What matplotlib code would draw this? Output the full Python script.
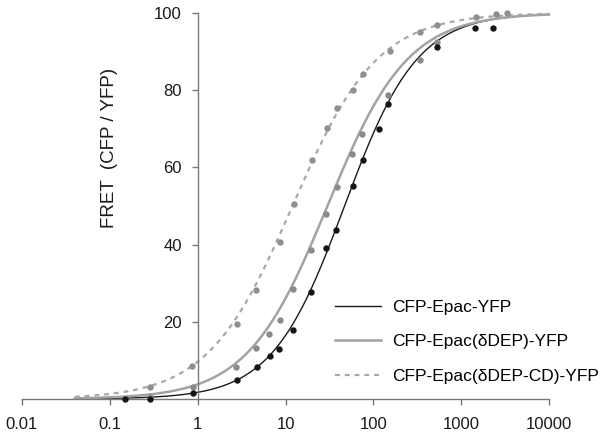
import numpy as np
import matplotlib
matplotlib.use("Agg")
import matplotlib.pyplot as plt

plt.rcParams['font.family'] = ['Liberation Sans', 'DejaVu Sans']

epac_x = [0.15, 0.29, 0.88, 2.8, 4.7, 6.6, 8.4, 12.3, 19.6, 29, 37.7, 58, 77, 115, 145, 525, 1440, 2310]
epac_y = [0, 0, 1.6, 4.9, 8.3, 11.2, 12.9, 17.9, 27.8, 39, 43.8, 55.2, 61.9, 69.9, 76.4, 91.1, 96, 96]

ddep_x = [0.29, 0.88, 2.75, 4.56, 6.46, 8.55, 12.3, 19.7, 29, 38.3, 57.3, 74.4, 145, 339, 525, 2480]
ddep_y = [0.6, 3.0, 8.3, 13.1, 16.8, 20.5, 28.4, 38.6, 47.9, 54.8, 63.5, 68.7, 78.8, 87.8, 92.5, 99.7]

ddepcd_x = [0.29, 0.87, 2.83, 4.65, 8.55, 12.4, 20.1, 29.5, 38.3, 58, 75.5, 155, 339, 525, 1470, 3360]
ddepcd_y = [3.0, 8.5, 19.4, 28.2, 40.8, 50.4, 61.9, 70.1, 75.3, 80, 84.2, 90.2, 95, 96.9, 98.9, 100]

# fitted dose-response curves (EC50, Hill slope) estimated from the drawn lines
fit_ec50 = [47, 30, 12]
fit_hill = [1.05, 0.95, 0.9]
fit_range = [0.04, 10000]

labels = ["CFP-Epac-YFP", "CFP-Epac(\u03b4DEP)-YFP", "CFP-Epac(\u03b4DEP-CD)-YFP"]
xticks = [0.01, 0.1, 1, 10, 100, 1000, 10000]
xticklabels = ["0.01", "0.1", "1", "10", "100", "1000", "10000"]
yticks = [20, 40, 60, 80, 100]

fig = plt.figure(figsize=(6.09, 4.38), dpi=100)
ax = fig.add_axes([22/609, 39/438, 527/609, 386/438])

xs = np.logspace(np.log10(fit_range[0]), np.log10(fit_range[1]), 300)
line_styles = [
    dict(color="#1a1a1a", lw=1.0, ls="-"),
    dict(color="#a3a3a3", lw=1.8, ls="-"),
    dict(color="#a8a8a8", lw=1.6, ls=(0, (2.2, 2.2))),
]
dot_colors = ["#151515", "#8a8a8a", "#8f8f8f"]
points = [(epac_x, epac_y), (ddep_x, ddep_y), (ddepcd_x, ddepcd_y)]

handles = []
for k in range(3):
    ys = 100 * xs**fit_hill[k] / (xs**fit_hill[k] + fit_ec50[k]**fit_hill[k])
    h, = ax.plot(xs, ys, label=labels[k], clip_on=False, zorder=2, **line_styles[k])
    handles.append(h)
for k in [2, 1, 0]:
    ax.plot(points[k][0], points[k][1], "o", color=dot_colors[k], ms=4.6,
            mec="none", clip_on=False, zorder=3)

ax.set_xscale("log")
ax.set_xlim(0.01, 10000)
ax.set_ylim(0, 100)
ax.set_xticks(xticks)
ax.set_xticklabels(xticklabels)
ax.minorticks_off()
ax.set_yticks(yticks)

for s in ["top", "right"]:
    ax.spines[s].set_visible(False)
ax.spines["left"].set_position(("data", 1))
for s in ["left", "bottom"]:
    ax.spines[s].set_color("#7a7a7a")
    ax.spines[s].set_linewidth(1.0)
ax.tick_params(axis="x", direction="out", length=4, width=1, color="#7a7a7a",
               labelsize=12, pad=9, labelcolor="#1a1a1a")
ax.tick_params(axis="y", direction="out", length=4, width=1, color="#7a7a7a",
               labelsize=12, pad=7.5, labelcolor="#1a1a1a")
ax.patch.set_visible(False)

fig.text(109/609, 1 - 148/438, "FRET  (CFP / YFP)", rotation=90, fontsize=13.5,
         color="#1a1a1a", ha="center", va="center")

ax.legend(handles=handles, loc="upper left", bbox_to_anchor=(335/609, 1 - 300/438),
          bbox_transform=fig.transFigure, frameon=False, fontsize=12.5,
          handlelength=2.65, handletextpad=0.63, labelspacing=1.1,
          borderpad=0, borderaxespad=0)

fig.savefig("out.png", dpi=100)
